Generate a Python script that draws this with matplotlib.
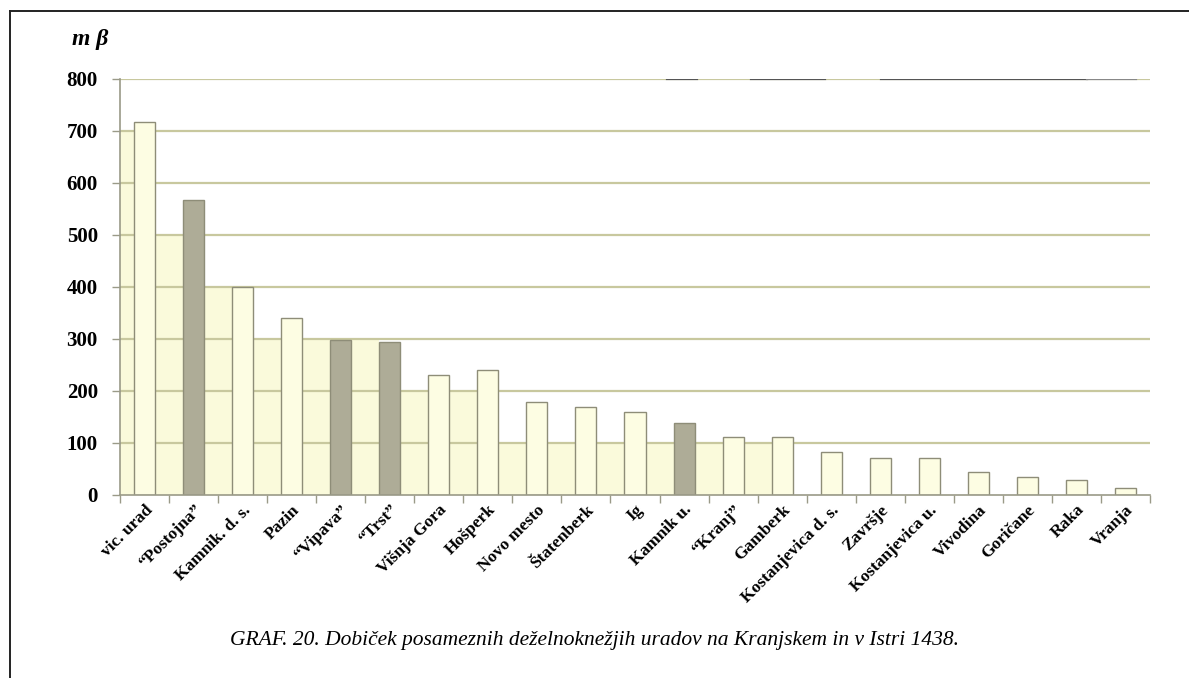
import matplotlib
matplotlib.use("Agg")
import matplotlib.pyplot as plt
from matplotlib.patches import Rectangle
from matplotlib.lines import Line2D
import numpy as np

categories = ["vic. urad", "\u201cPostojna\u201d", "Kamnik. d. s.", "Pazin", "\u201cVipava\u201d",
              "\u201cTrst\u201d", "Višnja Gora", "Hošperk", "Novo mesto", "Štatenberk", "Ig",
              "Kamnik u.", "\u201cKranj\u201d", "Gamberk", "Kostanjevica d. s.", "Završje",
              "Kostanjevica u.", "Vivodina", "Goričane", "Raka", "Vranja"]
values = [717, 568, 400, 341, 298, 295, 230, 240, 178, 170, 160, 138, 112, 111,
          83, 72, 71, 45, 35, 29, 13]
highlighted = ["\u201cPostojna\u201d", "\u201cVipava\u201d", "\u201cTrst\u201d", "Kamnik u."]
# background step levels in the gaps: before bar 0, then between bar i and i+1
gap_levels = [700, 500, 400, 300, 300, 300, 200, 200, 100, 100, 100, 100, 100, 100,
              0, 0, 0, 0, 0, 0, 0, 0]
yticks = [0, 100, 200, 300, 400, 500, 600, 700, 800]
y_label = "m β"
caption = "GRAF. 20. Dobiček posameznih deželnoknežjih uradov na Kranjskem in v Istri 1438."

W, H = 1189, 678
fig = plt.figure(figsize=(W / 100, H / 100), dpi=100)
fig.patch.set_facecolor("white")

x0, x1, ytop, ybot = 120, 1150, 79, 495
ax = fig.add_axes([x0 / W, (H - ybot) / H, (x1 - x0) / W, (ybot - ytop) / H])
ax.set_facecolor("none")

n = len(categories)
x = np.arange(n)
bw = 0.43
light = "#fdfde3"
dark = "#aeac97"
edge = "#8e8d78"
grid_c = "#c8c89e"
band_c = "#fafadb"

ax.set_xlim(-0.5, n - 0.5)
ax.set_ylim(0, 800)

# background step band
for i, lvl in enumerate(gap_levels):
    left = -0.5 if i == 0 else x[i - 1] + bw / 2
    right = (x[i] - bw / 2) if i < n else n - 0.5
    if lvl > 0:
        ax.add_patch(Rectangle((left, 0), right - left, lvl, facecolor=band_c,
                               edgecolor="none", zorder=0))

# gridlines
for yv in yticks[1:]:
    ax.axhline(yv, color=grid_c, lw=1.6, zorder=1)
for a, b, c in [(667, 697, "#555555"), (751, 825, "#555555"), (881, 1087, "#555555"),
                (1087, 1136, "#888888")]:
    ax.axhline(800, xmin=(a - x0) / (x1 - x0), xmax=(b - x0) / (x1 - x0), color=c,
               lw=1.6, zorder=2)

colors = [dark if c in highlighted else light for c in categories]
ax.bar(x, values, width=bw, color=colors, edgecolor=edge, linewidth=1.0, zorder=3)

for s in ["top", "right"]:
    ax.spines[s].set_visible(False)
for s in ["left", "bottom"]:
    ax.spines[s].set_color("#9a9a88")
    ax.spines[s].set_linewidth(1.2)
    ax.spines[s].set_zorder(4)

ax.set_yticks(yticks)
ax.set_yticklabels([str(v) for v in yticks], fontfamily="Liberation Serif",
                   fontweight="bold", fontsize=15)
ax.tick_params(axis="y", length=6, width=1.0, color="#9a9a88", pad=10)

ax.set_xticks(np.arange(n + 1) - 0.5, minor=True)
ax.set_xticks(x)
ax.set_xticklabels(categories, rotation=45, ha="right", rotation_mode="anchor",
                   fontfamily="Liberation Serif", fontweight="bold", fontsize=12.5)
ax.tick_params(axis="x", which="major", length=0, pad=5)
ax.tick_params(axis="x", which="minor", length=6, width=1.0, color="#9a9a88")

fig.text(72 / W, 1 - 40 / H, y_label, fontfamily="Liberation Serif", fontweight="bold",
         fontstyle="italic", fontsize=17, ha="left", va="center")
fig.text(595 / W, 1 - 640 / H, caption, fontfamily="Liberation Serif", fontstyle="italic",
         fontsize=15.5, ha="center", va="center")

# frame border (top and left)
fig.add_artist(Line2D([10 / W, 1.0], [1 - 11 / H, 1 - 11 / H], color="#222222", lw=1.4))
fig.add_artist(Line2D([10 / W, 10 / W], [0, 1 - 11 / H], color="#222222", lw=1.4))

fig.savefig("out.png", dpi=100)
